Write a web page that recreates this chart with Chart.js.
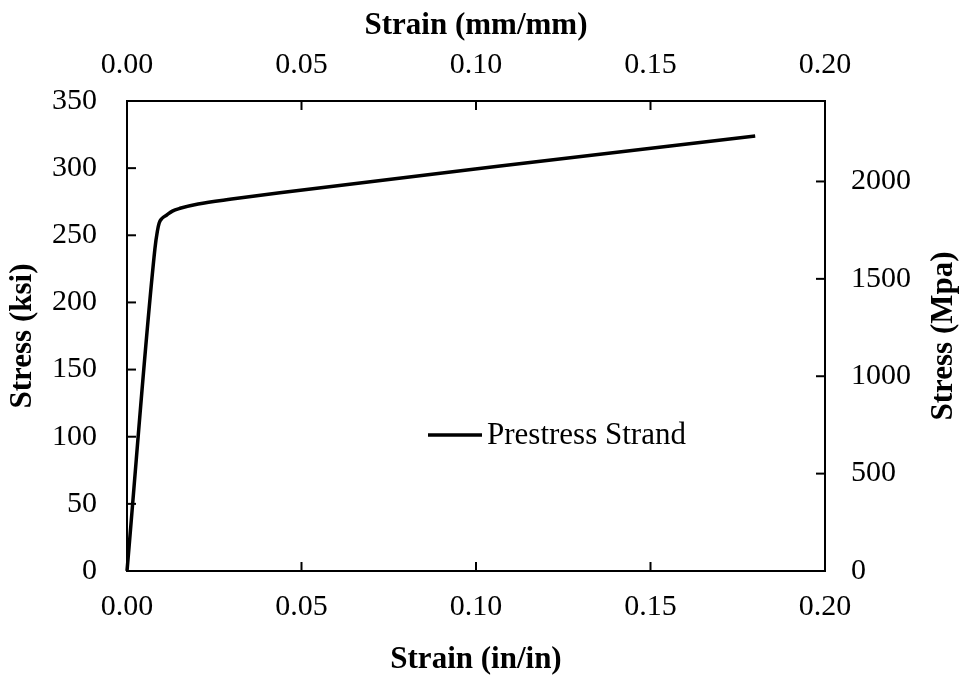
<!DOCTYPE html>
<html>
<head>
<meta charset="utf-8">
<script src="https://cdn.jsdelivr.net/npm/chart.js@4.4.1/dist/chart.umd.min.js"></script>
<style>
  html, body { margin: 0; padding: 0; background: #fff; }
  #wrap { width: 961px; height: 684px; }
</style>
</head>
<body>
<div id="wrap"><canvas id="chart" width="961" height="684"></canvas></div>
<script>
// values
const strain = [0, 0.0080, 0.0087, 0.0092, 0.0100, 0.0114, 0.0130, 0.0152, 0.0204, 0.0300, 0.0438, 0.1069, 0.1800];
const stressKsi = [0, 240, 253, 259, 262.5, 265.1, 268, 270.1, 273.3, 277, 281.7, 301.6, 324];
const seriesName = 'Prestress Strand';

const strainTicks = [0, 0.05, 0.10, 0.15, 0.20];
const ksiTicks = [0, 50, 100, 150, 200, 250, 300, 350];
const mpaTicks = [0, 500, 1000, 1500, 2000];
const ksiToMpa = 6.894757;

const tickFont = { family: 'Liberation Serif', size: 30 };
const titleFont = { family: 'Liberation Serif', size: 31, weight: 'bold' };

Chart.defaults.font.family = 'Liberation Serif';
Chart.defaults.color = '#000';

function fixedTicks(list) {
  return scale => { scale.ticks = list.map(v => ({ value: v })); };
}

function axisBase(pos, min, max, list, pad, fmt) {
  return {
    type: 'linear',
    position: pos,
    min: min,
    max: max,
    afterBuildTicks: fixedTicks(list),
    ticks: { font: tickFont, color: '#000', padding: pad, maxRotation: 0, autoSkip: false, callback: fmt },
    grid: { display: false, drawTicks: false },
    border: { display: true, color: '#000', width: 2 }
  };
}

const fmtStrain = v => v.toFixed(2);
const fmtInt = v => String(v);

const xBottom = axisBase('bottom', 0, 0.2, strainTicks, 18, fmtStrain);
xBottom.title = { display: true, text: 'Strain (in/in)', font: titleFont, color: '#000', padding: { top: 0, bottom: 5 } };
xBottom.afterFit = s => { s.height = 113; };

const xTop = axisBase('top', 0, 0.2, strainTicks, 18, fmtStrain);
xTop.title = { display: true, text: 'Strain (mm/mm)', font: titleFont, color: '#000', padding: { top: 7, bottom: 0 } };
xTop.afterFit = s => { s.height = 101; };

const yLeft = axisBase('left', 0, 350, ksiTicks, 30, fmtInt);
yLeft.title = { display: true, text: 'Stress (ksi)', font: titleFont, color: '#000', padding: { top: 4, bottom: 0 } };
yLeft.afterFit = s => { s.width = 127; };

const yRight = axisBase('right', 0, 350 * ksiToMpa, mpaTicks, 26, fmtInt);
yRight.afterFit = s => { s.width = 136; };

const overlay = {
  id: 'overlay',
  afterDraw(chart) {
    const ctx = chart.ctx;
    const area = chart.chartArea;
    const len = 9;
    ctx.save();
    ctx.strokeStyle = '#000';
    ctx.lineWidth = 2;
    // inward tick marks
    ['x', 'x2', 'y', 'y2'].forEach(id => {
      const sc = chart.scales[id];
      sc.ticks.forEach(t => {
        const p = sc.getPixelForValue(t.value);
        ctx.beginPath();
        if (id === 'x') { ctx.moveTo(p, area.bottom); ctx.lineTo(p, area.bottom - len); }
        if (id === 'x2') { ctx.moveTo(p, area.top); ctx.lineTo(p, area.top + len); }
        if (id === 'y') { ctx.moveTo(area.left, p); ctx.lineTo(area.left + len, p); }
        if (id === 'y2') { ctx.moveTo(area.right, p); ctx.lineTo(area.right - len, p); }
        ctx.stroke();
      });
    });

    // legend inside the plot
    const lx = 428, ly = 435;
    ctx.lineWidth = 3.5;
    ctx.beginPath();
    ctx.moveTo(lx, ly);
    ctx.lineTo(lx + 54, ly);
    ctx.stroke();
    ctx.fillStyle = '#000';
    ctx.font = '31px "Liberation Serif"';
    ctx.textAlign = 'left';
    ctx.textBaseline = 'middle';
    ctx.fillText(seriesName, lx + 59, ly + 1);

    // right axis title, reads bottom to top
    ctx.translate(944, (area.top + area.bottom) / 2);
    ctx.rotate(-Math.PI / 2);
    ctx.font = 'bold 31px "Liberation Serif"';
    ctx.textAlign = 'center';
    ctx.fillText('Stress (Mpa)', 0, 0);
    ctx.restore();
  }
};

new Chart(document.getElementById('chart'), {
  type: 'line',
  data: {
    datasets: [{
      label: seriesName,
      data: strain.map((s, i) => ({ x: s, y: stressKsi[i] })),
      borderColor: '#000',
      borderWidth: 3.5,
      pointRadius: 0,
      fill: false,
      cubicInterpolationMode: 'monotone',
      xAxisID: 'x',
      yAxisID: 'y',
      clip: false
    }]
  },
  options: {
    responsive: false,
    animation: false,
    layout: { padding: 0 },
    plugins: {
      legend: { display: false },
      tooltip: { enabled: false }
    },
    scales: { x: xBottom, x2: xTop, y: yLeft, y2: yRight }
  },
  plugins: [overlay]
});
</script>
</body>
</html>
